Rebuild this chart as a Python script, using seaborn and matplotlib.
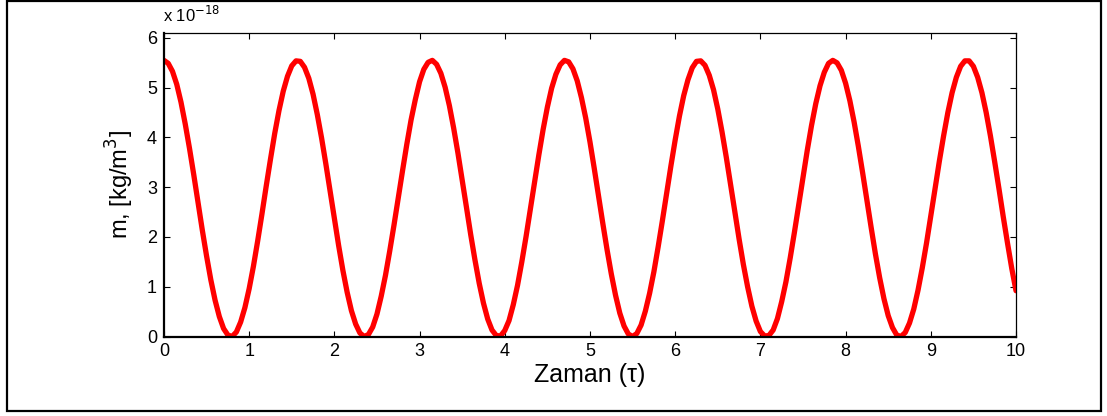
import numpy as np
import pandas as pd
import matplotlib
matplotlib.use("Agg")
import matplotlib.pyplot as plt
import matplotlib.patches as mpatches
import seaborn as sns

# ── Data (units of 1e-18 kg/m^3) ─────────────────────────────────────────────
zaman = np.round(np.arange(201) * 0.05, 2)
m_vals = [
    5.55, 5.49, 5.33, 5.07, 4.71, 4.27, 3.78, 3.25, 2.69, 2.14,
    1.62, 1.14, 0.73, 0.40, 0.16, 0.03, 0.00, 0.09, 0.29, 0.58,
    0.96, 1.41, 1.92, 2.46, 3.02, 3.56, 4.08, 4.54, 4.93, 5.23,
    5.44, 5.54, 5.53, 5.41, 5.19, 4.87, 4.46, 3.99, 3.47, 2.92,
    2.37, 1.83, 1.33, 0.89, 0.52, 0.25, 0.07, 0.00, 0.04, 0.19,
    0.45, 0.81, 1.23, 1.72, 2.24, 2.79, 3.33, 3.86, 4.35, 4.76,
    5.12, 5.37, 5.51, 5.55, 5.47, 5.29, 5.01, 4.64, 4.19, 3.69,
    3.15, 2.60, 2.05, 1.54, 1.07, 0.67, 0.35, 0.13, 0.02, 0.01,
    0.12, 0.32, 0.64, 1.03, 1.50, 2.01, 2.56, 3.11, 3.65, 4.16,
    4.61, 4.99, 5.27, 5.46, 5.55, 5.52, 5.38, 5.14, 4.80, 4.39,
    3.91, 3.38, 2.83, 2.28, 1.75, 1.26, 0.83, 0.47, 0.21, 0.05,
    0.00, 0.06, 0.23, 0.51, 0.87, 1.30, 1.80, 2.33, 2.88, 3.43,
    3.95, 4.43, 4.84, 5.16, 5.40, 5.53, 5.54, 5.45, 5.25, 4.96,
    4.57, 4.11, 3.60, 3.06, 2.51, 1.96, 1.45, 1.00, 0.61, 0.31,
    0.10, 0.01, 0.02, 0.13, 0.36, 0.70, 1.10, 1.58, 2.10, 2.65,
    3.20, 3.74, 4.24, 4.68, 5.04, 5.31, 5.49, 5.55, 5.50, 5.35,
    5.09, 4.74, 4.31, 3.82, 3.29, 2.74, 2.19, 1.66, 1.18, 0.76,
    0.42, 0.18, 0.03, 0.00, 0.08, 0.27, 0.55, 0.93, 1.38, 1.88,
    2.42, 2.97, 3.52, 4.03, 4.50, 4.90, 5.21, 5.43, 5.54, 5.54,
    5.43, 5.21, 4.90, 4.50, 4.03, 3.51, 2.97, 2.41, 1.88, 1.37,
    0.92,
]
x_ticks = list(range(0, 11))
y_ticks = list(range(0, 7))

df = pd.DataFrame({"zaman": zaman, "m": m_vals})

# ── Style ────────────────────────────────────────────────────────────────────
sns.set_style("ticks")
plt.rcParams.update({
    "font.family": ["Liberation Sans", "DejaVu Sans"],
    "text.color": "black",
    "axes.labelcolor": "black",
    "xtick.color": "black",
    "ytick.color": "black",
    "xtick.direction": "in",
    "ytick.direction": "in",
    "xtick.major.size": 4,
    "ytick.major.size": 4,
    "axes.edgecolor": "black",
})

fig = plt.figure(figsize=(11.07, 4.16), dpi=100)
ax = fig.add_axes([0.1481, 0.1911, 0.7697, 0.7296])

sns.lineplot(data=df, x="zaman", y="m", ax=ax, color="#ff0000",
             linewidth=3.8, solid_capstyle="round")

ax.set_xlim(0, 10)
ax.set_ylim(0, 6.1)
ax.set_xticks(x_ticks)
ax.set_yticks(y_ticks)
ax.tick_params(labelsize=13, colors="black", pad=5, top=True, right=True)
for side in ["left", "bottom"]:
    ax.spines[side].set_linewidth(1.6)
for side in ["top", "right"]:
    ax.spines[side].set_linewidth(0.9)

ax.set_xlabel("Zaman (τ)", fontsize=18, labelpad=2)
ax.set_ylabel("m, [kg/m$^3$]", fontsize=17, labelpad=8)
fig.text(0.1475, 0.94, "x 10$^{-18}$", fontsize=12, ha="left", va="bottom")

# outer frame around the figure
frame = mpatches.Rectangle((0.006, 0.013), 0.989, 0.984, transform=fig.transFigure,
                           fill=False, edgecolor="black", linewidth=1.6)
fig.patches.append(frame)

fig.savefig("out.png", dpi=100, facecolor="white")
